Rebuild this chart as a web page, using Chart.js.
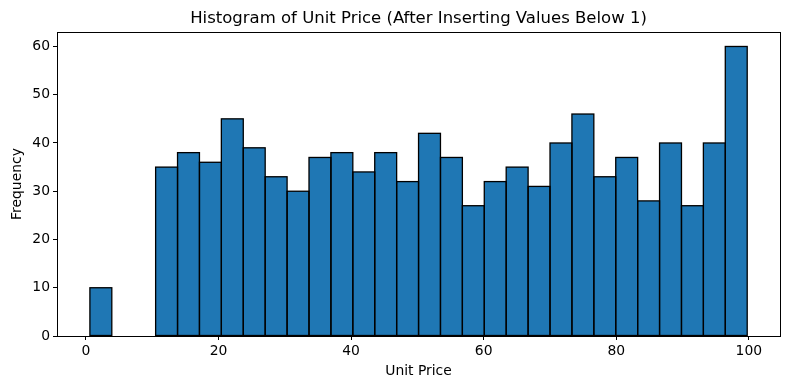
<html>
<head>
<meta charset="utf-8">
<title>Histogram of Unit Price</title>
<script src="https://cdn.jsdelivr.net/npm/chart.js"></script>
<style>
  body { margin: 0; background: #ffffff; }
  #wrap { width: 790px; height: 390px; }
</style>
</head>
<body>
<div id="wrap"><canvas id="graph" width="790" height="390"></canvas></div>
<script>
// bin edges (30 bins)
var binEdges = [0.60, 3.91, 7.21, 10.52, 13.82, 17.13, 20.43, 23.74, 27.04, 30.35,
                33.65, 36.96, 40.26, 43.57, 46.87, 50.18, 53.48, 56.79, 60.09, 63.40,
                66.70, 70.01, 73.31, 76.62, 79.92, 83.23, 86.53, 89.84, 93.14, 96.45, 99.75]
// frequency per bin
var counts = [10, 0, 0, 35, 38, 36, 45, 39, 33, 30,
              37, 38, 34, 38, 32, 42, 37, 27, 32, 35,
              31, 40, 46, 33, 37, 28, 40, 27, 40, 60]
var xTicks = [0, 20, 40, 60, 80, 100]
var yTicks = [0, 10, 20, 30, 40, 50, 60]

var chartTitle = "Histogram of Unit Price (After Inserting Values Below 1)"
var fontFamily = "'DejaVu Sans', sans-serif"

var points = []
for (var i = 0; i < counts.length; i++) {
    points.push({ x: (binEdges[i] + binEdges[i + 1]) / 2, y: counts[i] })
}

// bar edges stroked centred on the bar outline (like matplotlib's edgecolor)
var edgePlugin = {
    id: "edges",
    afterDatasetsDraw: function (chart) {
        var ctx = chart.ctx
        var meta = chart.getDatasetMeta(0)
        ctx.save()
        ctx.strokeStyle = "#000"
        ctx.lineWidth = 1.3
        meta.data.forEach(function (bar, idx) {
            if (!counts[idx]) return
            var p = bar.getProps(["x", "y", "base", "width"], true)
            ctx.strokeRect(p.x - p.width / 2, p.y, p.width, p.base - p.y)
        })
        ctx.restore()
    }
}

// black frame round the plot + title centred over the axes
var framePlugin = {
    id: "frame",
    afterDraw: function (chart) {
        var ctx = chart.ctx
        var a = chart.chartArea
        ctx.save()
        ctx.strokeStyle = "#000"
        ctx.lineWidth = 1
        ctx.strokeRect(Math.round(a.left) + 0.5, Math.round(a.top) + 0.5,
            Math.round(a.right - a.left), Math.round(a.bottom - a.top))
        ctx.fillStyle = "#000"
        ctx.font = "16.5px " + fontFamily
        ctx.textAlign = "center"
        ctx.textBaseline = "middle"
        ctx.fillText(chartTitle, (a.left + a.right) / 2, 19)
        ctx.restore()
    }
}

new Chart(document.getElementById("graph"), {
    type: "bar",
    data: {
        datasets: [{
            label: "Frequency",
            data: points,
            backgroundColor: "#1f77b4",
            borderWidth: 0,
            inflateAmount: 0,
            barPercentage: 1,
            categoryPercentage: 1
        }]
    },
    options: {
        responsive: false,
        animation: false,
        devicePixelRatio: 1,
        layout: { padding: { top: 32, right: 10, bottom: 0, left: 0 } },
        plugins: {
            legend: { display: false },
            tooltip: { enabled: false }
        },
        scales: {
            x: {
                type: "linear",
                min: -4.36,
                max: 104.7,
                offset: false,
                afterBuildTicks: function (scale) {
                    scale.ticks = xTicks.map(function (v) { return { value: v } })
                },
                afterFit: function (scale) { scale.height = 54 },
                border: { display: false },
                grid: { display: true, offset: false, drawOnChartArea: false, drawTicks: true, tickLength: 4, color: "#000" },
                ticks: { color: "#000", padding: 3, maxRotation: 0, font: { family: fontFamily, size: 13.9 } },
                title: {
                    display: true, text: "Unit Price", color: "#000",
                    padding: { top: 4, bottom: 10 },
                    font: { family: fontFamily, size: 13.9 }
                }
            },
            y: {
                min: 0,
                max: 63,
                afterBuildTicks: function (scale) {
                    scale.ticks = yTicks.map(function (v) { return { value: v } })
                },
                afterFit: function (scale) { scale.width = 57 },
                border: { display: false },
                grid: { display: true, drawOnChartArea: false, drawTicks: true, tickLength: 4, color: "#000" },
                ticks: { color: "#000", padding: 3, font: { family: fontFamily, size: 13.9 } },
                title: {
                    display: true, text: "Frequency", color: "#000",
                    padding: { top: 9, bottom: 4 },
                    font: { family: fontFamily, size: 13.9 }
                }
            }
        }
    },
    plugins: [edgePlugin, framePlugin]
})
</script>
</body>
</html>
